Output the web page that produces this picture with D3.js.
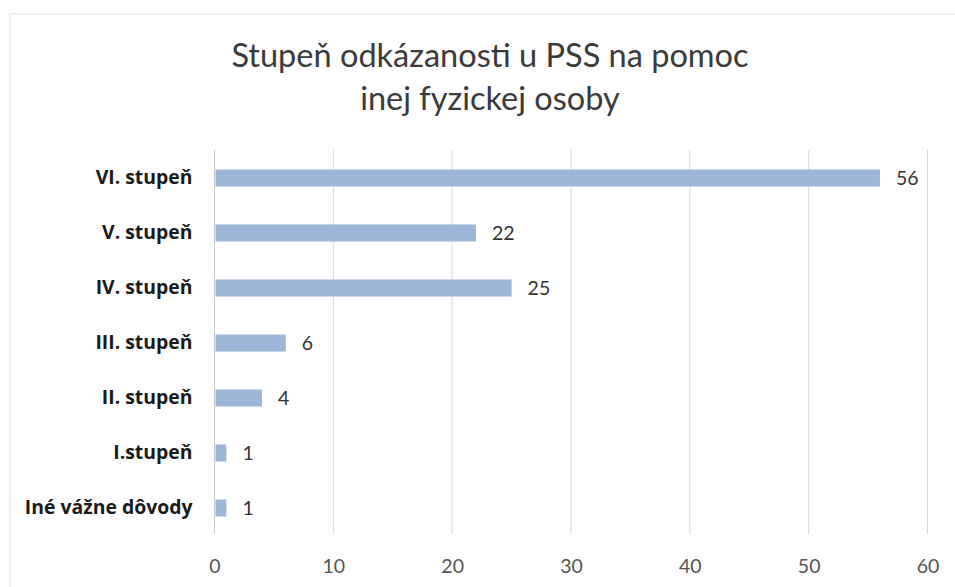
<!DOCTYPE html>
<html>
<head>
<meta charset="utf-8">
<script src="https://cdn.jsdelivr.net/npm/d3@7"></script>
<style>
  body { margin: 0; background: #fff; }
</style>
</head>
<body>
<svg id="chart" width="955" height="587"></svg>
<script>
// data
const categories = ["VI. stupeň", "V. stupeň", "IV. stupeň", "III. stupeň", "II. stupeň", "I.stupeň", "Iné vážne dôvody"];
const values = [56, 22, 25, 6, 4, 1, 1];
const xTicks = [0, 10, 20, 30, 40, 50, 60];
const titleLines = ["Stupeň odkázanosti u PSS na pomoc", "inej fyzickej osoby"];

const svg = d3.select("#chart");

// faint frame of the chart area
svg.append("path")
    .attr("d", "M10,587 L10,14 L955,14")
    .attr("fill", "none")
    .attr("stroke", "#e3e3e3")
    .attr("stroke-width", 1);

let x = d3.scaleLinear()
    .domain([0, 60])
    .range([214.5, 927.5]);

let y = d3.scaleBand()
    .domain(categories)
    .range([150.5, 535.5])
    .paddingInner(0.69)
    .paddingOuter(0.345);

// title
svg.selectAll("text.title")
    .data(titleLines)
    .enter()
    .append("text")
    .attr("class", "title")
    .attr("x", 490)
    .attr("y", (d, i) => 67 + i * 43)
    .attr("text-anchor", "middle")
    .style("font-family", "Lato, sans-serif")
    .style("font-size", "32.5px")
    .attr("fill", "#3a3a3a")
    .text(d => d);

// vertical gridlines
svg.append("g")
    .selectAll("line")
    .data(xTicks.slice(1))
    .enter()
    .append("line")
    .attr("x1", d => x(d)).attr("x2", d => x(d))
    .attr("y1", 150).attr("y2", 534)
    .attr("stroke", "#d9d9d9")
    .attr("stroke-width", 1);

// x axis labels, no line
let xAxis = d3.axisBottom(x)
    .tickValues(xTicks)
    .tickSize(0)
    .tickPadding(0);

let gx = svg.append("g")
    .attr("transform", "translate(0,558)")
    .call(xAxis);
gx.select(".domain").remove();
gx.selectAll("text")
    .style("font-family", "Lato, sans-serif")
    .style("font-size", "19.5px")
    .attr("fill", "#555")
    .attr("dy", "0.75em");

// y axis labels
let yAxis = d3.axisLeft(y)
    .tickSize(0)
    .tickPadding(22);

let gy = svg.append("g")
    .attr("transform", "translate(214.5,0)")
    .call(yAxis);
gy.select(".domain")
    .attr("stroke", "#c8c8c8")
    .attr("d", "M0,150V534");
gy.selectAll("text")
    .style("font-family", "'Open Sans', sans-serif")
    .style("font-size", "19.4px")
    .style("font-weight", "bold")
    .attr("fill", "#1a1a1a");

// bars
svg.append("g")
    .selectAll("rect")
    .data(values)
    .enter()
    .append("rect")
    .attr("x", x(0) + 1)
    .attr("y", (d, i) => y(categories[i]))
    .attr("width", d => x(d) - x(0) - 1)
    .attr("height", y.bandwidth())
    .attr("fill", "#9db7da");

// value labels
svg.append("g")
    .selectAll("text")
    .data(values)
    .enter()
    .append("text")
    .attr("x", d => x(d) + 16)
    .attr("y", (d, i) => y(categories[i]) + y.bandwidth() / 2)
    .attr("dy", "0.36em")
    .style("font-family", "Lato, sans-serif")
    .style("font-size", "19.5px")
    .attr("fill", "#333")
    .text(d => d);
</script>
</body>
</html>
